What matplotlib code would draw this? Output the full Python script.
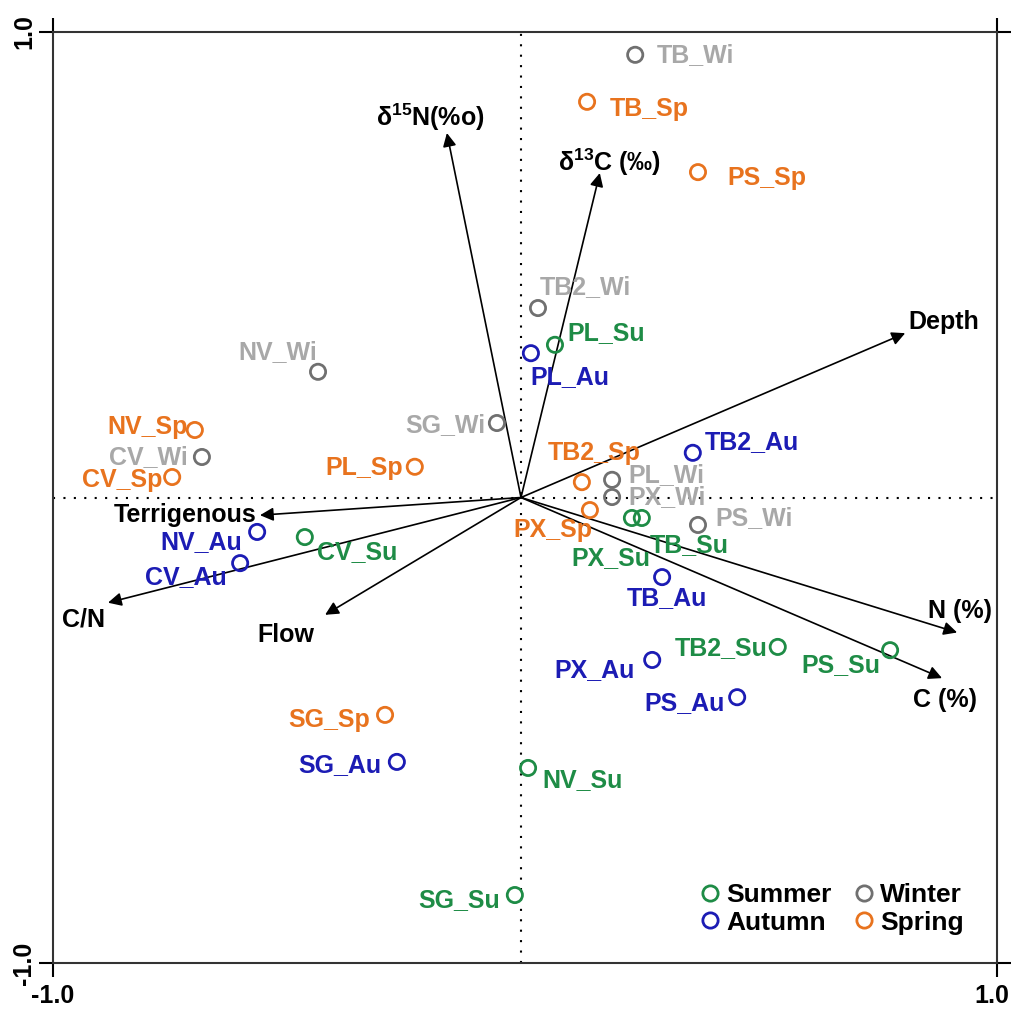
import matplotlib.pyplot as plt
import matplotlib.transforms as mtransforms
from matplotlib.lines import Line2D

plt.rcParams['font.family'] = ['Liberation Sans', 'DejaVu Sans']
plt.rcParams['font.weight'] = 'bold'
plt.rcParams['mathtext.fontset'] = 'custom'
plt.rcParams['mathtext.rm'] = 'Liberation Sans:bold'
plt.rcParams['mathtext.it'] = 'Liberation Sans:bold'
plt.rcParams['mathtext.bf'] = 'Liberation Sans:bold'

# site scores per season
summer_sites = ['PL', 'PX', 'TB', 'CV', 'TB2', 'PS', 'NV', 'SG']
summer_x = [0.072, 0.235, 0.256, -0.458, 0.544, 0.782, 0.015, -0.013]
summer_y = [0.328, -0.044, -0.044, -0.085, -0.321, -0.328, -0.581, -0.854]

autumn_sites = ['PL', 'TB2', 'NV', 'CV', 'TB', 'PX', 'PS', 'SG']
autumn_x = [0.021, 0.364, -0.559, -0.595, 0.299, 0.278, 0.458, -0.263]
autumn_y = [0.310, 0.096, -0.074, -0.141, -0.171, -0.349, -0.429, -0.568]

winter_sites = ['TB', 'TB2', 'NV', 'SG', 'CV', 'PL', 'PX', 'PS']
winter_x = [0.242, 0.036, -0.430, -0.051, -0.676, 0.193, 0.193, 0.375]
winter_y = [0.951, 0.407, 0.270, 0.160, 0.087, 0.038, 0.001, -0.059]

spring_sites = ['TB', 'PS', 'NV', 'PL', 'CV', 'TB2', 'PX', 'SG']
spring_x = [0.140, 0.375, -0.691, -0.225, -0.739, 0.129, 0.146, -0.288]
spring_y = [0.850, 0.699, 0.145, 0.066, 0.044, 0.033, -0.027, -0.467]

# environmental vectors
var_names = ['δ$^{15}$N(%o)', 'δ$^{13}$C (‰)', 'Depth', 'N (%)', 'C (%)',
             'Terrigenous', 'C/N', 'Flow']
var_x = [-0.157, 0.167, 0.814, 0.924, 0.892, -0.553, -0.875, -0.415]
var_y = [0.783, 0.697, 0.353, -0.290, -0.388, -0.038, -0.226, -0.252]

# label placement (pixel offsets, alignment)
lab_off = {
    'TB_Wi': (22, 0, 'left'), 'TB_Sp': (23, -7, 'left'), 'PS_Sp': (29, -6, 'left'),
    'TB2_Wi': (2, 21, 'left'), 'PL_Su': (12, 12, 'left'), 'PL_Au': (-1, -24, 'left'),
    'NV_Wi': (-1, 20, 'right'), 'SG_Wi': (-11, -2, 'right'), 'PL_Sp': (-12, -1, 'right'),
    'NV_Sp': (-7, 3, 'right'), 'CV_Wi': (-14, 0, 'right'), 'CV_Sp': (-10, -3, 'right'),
    'NV_Au': (-15, -10, 'right'), 'CV_Au': (-13, -14, 'right'), 'CV_Su': (12, -15, 'left'),
    'TB2_Sp': (12, 29, 'center'), 'PX_Sp': (2, -20, 'right'), 'PL_Wi': (16, 5, 'left'),
    'PX_Wi': (16, 0, 'left'), 'PS_Wi': (17, 7, 'left'), 'TB_Su': (8, -27, 'left'),
    'PX_Su': (18, -40, 'right'), 'TB_Au': (5, -21, 'center'), 'TB2_Au': (12, 11, 'left'),
    'TB2_Su': (-10, -1, 'right'), 'PS_Su': (-10, -15, 'right'), 'PX_Au': (-17, -10, 'right'),
    'PS_Au': (-12, -6, 'right'), 'SG_Sp': (-15, -5, 'right'), 'SG_Au': (-15, -3, 'right'),
    'NV_Su': (14, -12, 'left'), 'SG_Su': (-15, -5, 'right'),
}
var_off = [(-17, 16, 'center'), (10, 11, 'center'), (3, 11, 'left'), (3, 21, 'center'),
           (3, -22, 'center'), (-3, 0, 'right'), (-24, -17, 'center'), (-39, -20, 'center')]

seasons = [
    ('Summer', 'Su', summer_sites, summer_x, summer_y, '#1e8c46', '#1e8c46'),
    ('Autumn', 'Au', autumn_sites, autumn_x, autumn_y, '#1c1cb4', '#1c1cb4'),
    ('Winter', 'Wi', winter_sites, winter_x, winter_y, '#707070', '#a8a8a8'),
    ('Spring', 'Sp', spring_sites, spring_x, spring_y, '#e8731e', '#e8731e'),
]

fig = plt.figure(figsize=(10.15, 10.11), dpi=100)
ax = fig.add_axes([53/1015, 1-963/1011, 944/1015, 931/1011])

ax.axhline(0, color='black', lw=1.5, ls=(0, (1, 4)), zorder=1)
ax.axvline(0, color='black', lw=1.5, ls=(0, (1, 4)), zorder=1)

for name, vx, vy, (dx, dy, ha) in zip(var_names, var_x, var_y, var_off):
    ax.annotate('', xy=(vx, vy), xytext=(0, 0),
                arrowprops=dict(arrowstyle='-|>', color='black', lw=1.2,
                                mutation_scale=20, shrinkA=0, shrinkB=0), zorder=2)
    ax.annotate(name, xy=(vx, vy), xytext=(dx, dy), textcoords='offset pixels',
                ha=ha, va='center', fontsize=18, fontweight='bold', color='black')

handles = []
for season, tag, sites, xs, ys, mc, tc in seasons:
    ax.scatter(xs, ys, s=120, facecolors='none', edgecolors=mc, linewidths=2, zorder=3)
    for s, x, y in zip(sites, xs, ys):
        lab = f'{s}_{tag}'
        dx, dy, ha = lab_off[lab]
        ax.annotate(lab, xy=(x, y), xytext=(dx, dy), textcoords='offset pixels',
                    ha=ha, va='center', fontsize=18, fontweight='bold', color=tc)
    handles.append(Line2D([], [], marker='o', ls='none', markersize=11,
                          markerfacecolor='none', markeredgecolor=mc,
                          markeredgewidth=2, label=season))

ax.legend(handles=handles, ncol=2, loc='lower right', bbox_to_anchor=(0.99, 0.005),
          frameon=False, fontsize=19, handletextpad=0.05, columnspacing=0.7,
          labelspacing=0.12, handlelength=1.1)

# origin sits a few pixels left of the frame centre in the original
ax.set_xlim(-0.9915, 1.0085)
ax.set_ylim(-1, 1)
ax.set_xticks(ax.get_xlim())
ax.set_yticks([-1, 1])
ax.set_xticklabels(['-1.0', '1.0'], fontsize=18, fontweight='bold')
ax.set_yticklabels(['-1.0', '1.0'], fontsize=18, fontweight='bold', rotation=90, va='center')
ax.tick_params(which='both', direction='out', length=10, width=1.5,
               top=True, right=True, pad=2)
ax.tick_params(axis='x', pad=5)
# keep the right-hand "1.0" inside the image
right_lab = ax.get_xticklabels()[1]
right_lab.set_ha('right')
right_lab.set_transform(right_lab.get_transform() +
                        mtransforms.ScaledTranslation(0.12, 0, fig.dpi_scale_trans))
for sp in ax.spines.values():
    sp.set_linewidth(1.5)
    sp.set_color('#333333')

fig.savefig('out.png', dpi=100)
